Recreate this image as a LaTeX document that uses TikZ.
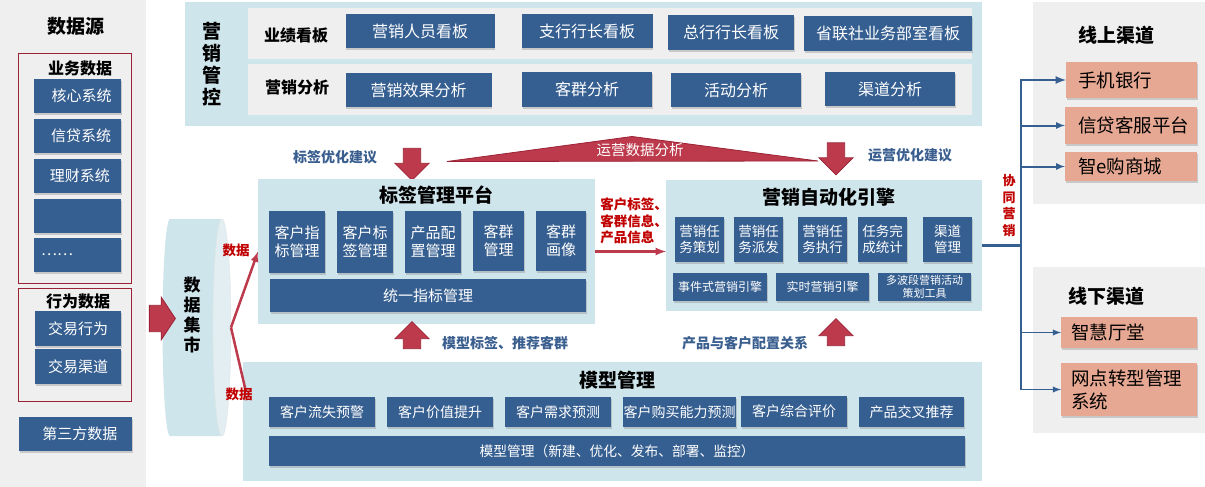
\documentclass[tikz,border=0pt]{standalone}
\usepackage{fontspec}
\setmainfont{Noto Sans CJK SC}
\usetikzlibrary{arrows}
\usetikzlibrary{shapes.arrows}
\usetikzlibrary{shapes.geometric}
\usetikzlibrary{shadows}

\definecolor{PanelGray}{HTML}{EFEFEF}
\definecolor{PanelBlue}{HTML}{CFE5EC}
\definecolor{EndBlue}{HTML}{E2EEF2}
\definecolor{BoxBlue}{HTML}{365F91}
\definecolor{ArrowRed}{HTML}{BC3A4C}
\definecolor{ArrowEdge}{HTML}{9B2335}
\definecolor{TextRed}{HTML}{C00000}
\definecolor{TextBlue}{HTML}{3A5F8F}
\definecolor{BoxSalmon}{HTML}{E6A892}

\tikzset{
  boxsize/.style 2 args={minimum width=#1, minimum height=#2},
  flat/.style={inner sep=0pt, outer sep=0pt},
  panel/.style={flat, fill=#1},
  frame/.style={flat, draw=ArrowEdge, line width=0.8pt},
  bluebox/.style={flat, fill=BoxBlue, text=white, align=center,
    drop shadow={shadow xshift=0.5pt, shadow yshift=-2pt, opacity=0.35},
    font=\fontsize{15}{18}\selectfont},
  salmonbox/.style={flat, fill=BoxSalmon, text width=#1, align=left,
    drop shadow={shadow xshift=0.5pt, shadow yshift=-2pt, opacity=0.35},
    font=\fontsize{18.5}{23}\selectfont},
  title/.style={flat, font=\fontsize{19}{22}\selectfont\bfseries, align=center},
  blacklabel/.style={flat, font=\fontsize{16}{18}\selectfont\bfseries},
  bluelabel/.style={flat, text=TextBlue, font=\fontsize{14}{16}\selectfont\bfseries},
  redlabel/.style={flat, text=TextRed, align=#1, font=\fontsize{13.5}{16.5}\selectfont\bfseries},
  fatarrow/.style={flat, inner xsep=7pt, inner ysep=8.5pt, single arrow, draw=ArrowEdge, fill=ArrowRed, line width=0.8pt,
    minimum width=34, minimum height=#1},
  redline/.style={draw=ArrowRed, line width=2.5pt},
  blueline/.style={draw=BoxBlue, line width=#1}
}

\begin{document}
\begin{tikzpicture}[x=1pt, y=-1pt]

\useasboundingbox (0,0) rectangle (1205,487);

\node[panel=PanelGray, boxsize={146}{487}] (SourcePanel) at (73,243.5) {};
\node[title] (SourceTitle) at (76,26) {数据源};

\node[frame, boxsize={113}{230}] (BizFrame) at (74.5,168) {};
\node[blacklabel] (BizTitle) at (80,68) {业务数据};
\node[bluebox, boxsize={87}{34}] (CoreSys) at (77.5,96) {\hspace*{8pt}核心系统};
\node[bluebox, boxsize={87}{34}] (LoanSys) at (77.5,136) {\hspace*{7pt}信贷系统};
\node[bluebox, boxsize={87}{34}] (WealthSys) at (77.5,176) {\hspace*{5pt}理财系统};
\node[bluebox, boxsize={87}{34}] (BlankSys) at (77.5,216) {};
\node[bluebox, boxsize={87}{34}] (MoreSys) at (77.5,255) {\hspace*{-41pt}……};

\node[frame, boxsize={113}{113}] (ActFrame) at (74.5,344.5) {};
\node[blacklabel] (ActTitle) at (78,301) {行为数据};
\node[bluebox, boxsize={86}{35}] (TradeAct) at (78,328.5) {交易行为};
\node[bluebox, boxsize={86}{35}] (TradeChan) at (78,366.5) {交易渠道};

\node[bluebox, boxsize={113}{34}] (ThirdParty) at (75.5,434) {\hspace*{9pt}第三方数据};

\fill[PanelBlue] (222,219) -- (170,219) arc[start angle=90, end angle=270, x radius=7.5pt, y radius=108.5pt] -- (222,436) -- cycle;
\node[ellipse, flat, fill=EndBlue, draw=black!10, boxsize={18}{217}] (MartEnd) at (222,327.5) {};
\node[title, font=\fontsize{17}{20}\selectfont\bfseries] (MartText) at (192,315) {数\\据\\集\\市};

\node[fatarrow=26, minimum width=43, inner xsep=6pt, inner ysep=11pt, single arrow tip angle=113] (MartIn) at (158,318.5) {};

\node[panel=PanelBlue, boxsize={797}{124}] (ControlPanel) at (583.5,64) {};
\node[title] (ControlText) at (212,64) {营\\销\\管\\控};
\node[panel=PanelGray, boxsize={724}{51}] (BoardRow) at (610,33.5) {};
\node[panel=PanelGray, boxsize={724}{51}] (AnalysisRow) at (610,89.5) {};
\node[blacklabel] (BoardText) at (296,35) {业绩看板};
\node[blacklabel] (AnalysisText) at (297,87) {营销分析};

\node[bluebox, boxsize={149}{34}, font=\fontsize{16}{18}\selectfont] (SalesBoard) at (420,31) {\raisebox{-2pt}{营销人员看板}};
\node[bluebox, boxsize={131}{34}, font=\fontsize{16}{18}\selectfont] (BranchBoard) at (587,31) {\raisebox{-2pt}{支行行长看板}};
\node[bluebox, boxsize={126}{35}, font=\fontsize{16}{18}\selectfont] (HeadBoard) at (731,32.5) {\raisebox{-2pt}{总行行长看板}};
\node[bluebox, boxsize={168}{35}, font=\fontsize{16}{18}\selectfont] (UnionBoard) at (888,33.5) {\raisebox{-2pt}{省联社业务部室看板}};

\node[bluebox, boxsize={146}{34}, font=\fontsize{16}{18}\selectfont] (EffectView) at (418.5,90) {营销效果分析};
\node[bluebox, boxsize={130}{35}, font=\fontsize{16}{18}\selectfont] (GroupView) at (587,89.5) {\raisebox{-1pt}{客群分析}};
\node[bluebox, boxsize={130}{34}, font=\fontsize{16}{18}\selectfont] (ActivityView) at (736,90) {\raisebox{-1pt}{活动分析}};
\node[bluebox, boxsize={130}{34}, font=\fontsize{16}{18}\selectfont] (ChannelView) at (890,89) {\raisebox{-1pt}{渠道分析}};

\node[bluelabel] (TagHint) at (335,157) {标签优化建议};
\node[fatarrow=32, shape border rotate=270] (TagDown) at (412,160) {};
\draw[draw=ArrowEdge, fill=ArrowRed, line width=0.8pt] (447,161.5) -- (632,136.5) -- (818,161) -- cycle;
\node[flat, text=white, font=\fontsize{14.5}{16}\selectfont] (OpsText) at (640,150) {运营数据分析};
\node[fatarrow=32, shape border rotate=270] (AutoDown) at (836,154.5) {};
\node[bluelabel] (AutoHint) at (910,155) {运营优化建议};

\node[panel=PanelBlue, boxsize={337}{145}] (TagPanel) at (426.5,251.5) {};
\node[title] (TagTitle) at (436,195) {标签管理平台};
\node[bluebox, boxsize={56}{62}] (TagA) at (297,242) {客户指\\标管理};
\node[bluebox, boxsize={56}{62}] (TagB) at (365,242) {客户标\\签管理};
\node[bluebox, boxsize={56}{62}] (TagC) at (433,242) {产品配\\置管理};
\node[bluebox, boxsize={51}{60}] (TagD) at (498.5,241) {客群\\管理};
\node[bluebox, boxsize={50}{60}] (TagE) at (561,241) {客群\\画像};
\node[bluebox, boxsize={316}{33}] (TagBar) at (428,295.5) {统一指标管理};

\node[panel=PanelBlue, boxsize={316}{131}] (AutoPanel) at (824,245.5) {};
\node[title] (AutoTitle) at (829,197) {营销自动化引擎};
\node[bluebox, boxsize={49}{45}, font=\fontsize{13.5}{16}\selectfont] (AutoA) at (699.5,239.5) {营销任\\务策划};
\node[bluebox, boxsize={49}{45}, font=\fontsize{13.5}{16}\selectfont] (AutoB) at (758.5,239.5) {营销任\\务派发};
\node[bluebox, boxsize={49}{45}, font=\fontsize{13.5}{16}\selectfont] (AutoC) at (822.5,239.5) {营销任\\务执行};
\node[bluebox, boxsize={49}{45}, font=\fontsize{13.5}{16}\selectfont] (AutoD) at (882.5,239.5) {任务完\\成统计};
\node[bluebox, boxsize={49}{45}, font=\fontsize{13.5}{16}\selectfont] (AutoE) at (947.5,239.5) {渠道\\管理};
\node[bluebox, boxsize={94}{28}, font=\fontsize{12}{14}\selectfont] (EngineA) at (720,287) {事件式营销引擎};
\node[bluebox, boxsize={93}{28}, font=\fontsize{12}{14}\selectfont] (EngineB) at (822.5,287) {实时营销引擎};
\node[bluebox, boxsize={93}{28}, font=\fontsize{11}{12.5}\selectfont] (EngineC) at (924.5,287) {多波段营销活动\\策划工具};

\node[redlabel=left] (HandText) at (634,221) {客户标签、\\客群信息、\\产品信息};
\draw[redline, -latex] (TagPanel.east) -- (TagPanel.east -| AutoPanel.west);

\node[fatarrow=27, shape border rotate=90] (ModelUpA) at (412,339.5) {};
\node[bluelabel] (ModelHintA) at (505,343) {模型标签、推荐客群};
\node[bluelabel] (ModelHintB) at (745,343) {产品与客户配置关系};
\node[fatarrow=27, shape border rotate=90] (ModelUpB) at (836,336.5) {};

\node[panel=PanelBlue, boxsize={739}{119}] (ModelPanel) at (612.5,421.5) {};
\node[title] (ModelTitle) at (617.5,380) {模型管理};
\node[bluebox, boxsize={106}{30}, font=\fontsize{14}{18}\selectfont] (ModelA) at (322,412) {客户流失预警};
\node[bluebox, boxsize={106}{30}, font=\fontsize{14}{18}\selectfont] (ModelB) at (440,412) {客户价值提升};
\node[bluebox, boxsize={106}{30}, font=\fontsize{14}{18}\selectfont] (ModelC) at (558,412) {客户需求预测};
\node[bluebox, boxsize={113}{30}, font=\fontsize{14}{18}\selectfont] (ModelD) at (679.5,412) {客户购买能力预测};
\node[bluebox, boxsize={106}{31}, font=\fontsize{14}{18}\selectfont] (ModelE) at (794,411.5) {客户综合评价};
\node[bluebox, boxsize={105}{30}, font=\fontsize{14}{18}\selectfont] (ModelF) at (911.5,412) {产品交叉推荐};
\node[bluebox, boxsize={696}{30}, font=\fontsize{13.75}{16}\selectfont] (ModelBar) at (617,451) {模型管理（新建、优化、发布、部署、监控）};

\coordinate (ModelIn) at (246,392);
\draw[redline, -latex] (MartEnd.east) -- (TagPanel.west);
\draw[redline] (MartEnd.east) -- (ModelIn);
\node[redlabel=center] (DataUp) at (236,250) {数据};
\node[redlabel=center] (DataDown) at (239,394) {数据};

\node[panel=PanelGray, boxsize={172}{202}] (OnlinePanel) at (1119,103) {};
\node[title] (OnlineTitle) at (1116,35) {线上渠道};
\node[salmonbox=131, boxsize={131}{36}, execute at begin node={\leftskip=12pt}] (Mobile) at (1131.5,80) {\raisebox{-3pt}{手机银行}};
\node[salmonbox=132, boxsize={132}{37}, execute at begin node={\leftskip=13pt}] (Service) at (1131,125.5) {\raisebox{-3pt}{信贷客服平台}};
\node[salmonbox=132, boxsize={132}{29}, execute at begin node={\leftskip=13pt}] (Mall) at (1131,166.5) {智e购商城};

\node[panel=PanelGray, boxsize={172}{166}] (OfflinePanel) at (1119,350) {};
\node[title] (OfflineTitle) at (1106,296) {线下渠道};
\node[salmonbox=136, boxsize={136}{31}, execute at begin node={\leftskip=10pt}] (Hall) at (1129,332.5) {智慧厅堂};
\node[salmonbox=136, boxsize={136}{53}, execute at begin node={\leftskip=10pt}] (Outlet) at (1129,389.5) {网点转型管理\\系统};

\coordinate (Hub) at (1021,245.5);
\draw[blueline=2.5pt] (AutoPanel.east) -- (Hub);
\draw[blueline=2.5pt, -latex] (Hub) |- (Mobile.west);
\draw[blueline=2pt, -latex] (Hub) |- (Service.west);
\draw[blueline=2pt, -latex] (Hub) |- (Mall.west);
\draw[blueline=1.8pt, -latex] (Hub) |- (Hall.west);
\draw[blueline=1.8pt, -latex] (Hub) |- (Outlet.west);
\node[redlabel=center, font=\fontsize{13}{16.5}\selectfont\bfseries] (JointText) at (1009,205.5) {协\\同\\营\\销};

\end{tikzpicture}
\end{document}
